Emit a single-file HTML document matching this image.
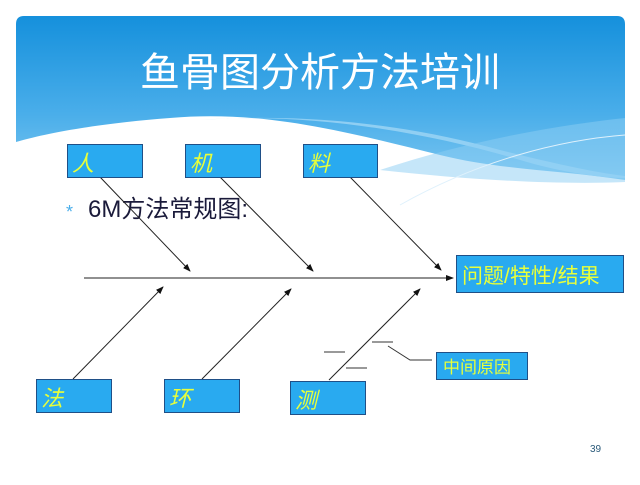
<!DOCTYPE html>
<html><head><meta charset="utf-8"><style>
body{margin:0;background:#fff;}
svg text{font-family:"Liberation Sans","Noto Sans CJK SC",sans-serif;}
</style></head><body>
<svg width="640" height="480" viewBox="0 0 640 480" xmlns="http://www.w3.org/2000/svg">
<defs>
<linearGradient id="g" x1="0" y1="0" x2="0" y2="1">
<stop offset="0" stop-color="#1590dc"/><stop offset="0.6" stop-color="#4aaeea"/><stop offset="1" stop-color="#7cc6f0"/>
</linearGradient>
<marker id="a" markerWidth="8" markerHeight="8" refX="7" refY="4" orient="auto" markerUnits="userSpaceOnUse"><path d="M0,1 L8,4 L0,7 z" fill="#111"/></marker>
</defs>
<rect x="0" y="0" width="640" height="480" fill="#fff"/>
<path d="M16,24 Q16,16 24,16 L617,16 Q625,16 625,24 L625,180 C560,170 500,170 440,155 C340,130 260,110 170,118 C90,124 40,135 16,142 Z" fill="url(#g)"/>
<path d="M200,120 C300,112 420,130 520,160 C560,172 600,178 625,178 L625,176 C590,172 540,160 500,150 C420,128 320,112 200,120 Z" fill="#9fd6f5" opacity="0.8"/>
<path d="M380,170 C470,140 560,125 625,118 L625,182 C560,185 470,180 380,170 Z" fill="#8ccdf3" opacity="0.5"/>
<path d="M400,205 C480,160 560,140 625,135" stroke="#dff1fc" stroke-width="1" fill="none"/>
<text x="320" y="86" font-size="40" fill="#fff" text-anchor="middle">鱼骨图分析方法培训</text>
<text x="66" y="218" font-size="18" fill="#4aaeea">*</text>
<text x="88" y="217" font-size="24" fill="#1a1a3a">6M方法常规图:</text>
<g stroke="#222" stroke-width="1" fill="none" marker-end="url(#a)">
<line x1="84" y1="278" x2="453" y2="278"/>
<line x1="100" y1="177" x2="190" y2="271"/>
<line x1="220" y1="177" x2="313" y2="271"/>
<line x1="350" y1="177" x2="441" y2="270"/>
<line x1="73" y1="379" x2="163" y2="287"/>
<line x1="202" y1="379" x2="291" y2="289"/>
<line x1="329" y1="380" x2="420" y2="289"/>
</g>
<g stroke="#333" stroke-width="1" fill="none">
<line x1="324" y1="352" x2="345" y2="352"/>
<line x1="372" y1="342" x2="393" y2="342"/>
<line x1="346" y1="368" x2="367" y2="368"/>
<polyline points="388,346 410,360 432,360"/>
</g>
<g fill="#29aaf0" stroke="#1f4f87" stroke-width="1">
<rect x="67.5" y="144.5" width="75" height="33"/>
<rect x="185.5" y="144.5" width="75" height="33"/>
<rect x="303.5" y="144.5" width="74" height="33"/>
<rect x="456.5" y="255.5" width="167" height="37"/>
<rect x="436.5" y="352.5" width="91" height="27"/>
<rect x="36.5" y="379.5" width="75" height="33"/>
<rect x="164.5" y="379.5" width="75" height="33"/>
<rect x="290.5" y="381.5" width="75" height="33"/>
</g>
<g fill="#e8ff3a" font-size="22" font-style="italic">
<text x="72" y="171">人</text>
<text x="190" y="171">机</text>
<text x="308" y="171">料</text>
<text x="41" y="406">法</text>
<text x="169" y="406">环</text>
<text x="295" y="408">测</text>
</g>
<text x="462" y="283" font-size="21" fill="#e8ff3a">问题/特性/结果</text>
<text x="443" y="373" font-size="17" fill="#e8ff3a">中间原因</text>
<text x="590" y="452" font-size="10" fill="#2a5a7a">39</text>
</svg>
</body></html>
